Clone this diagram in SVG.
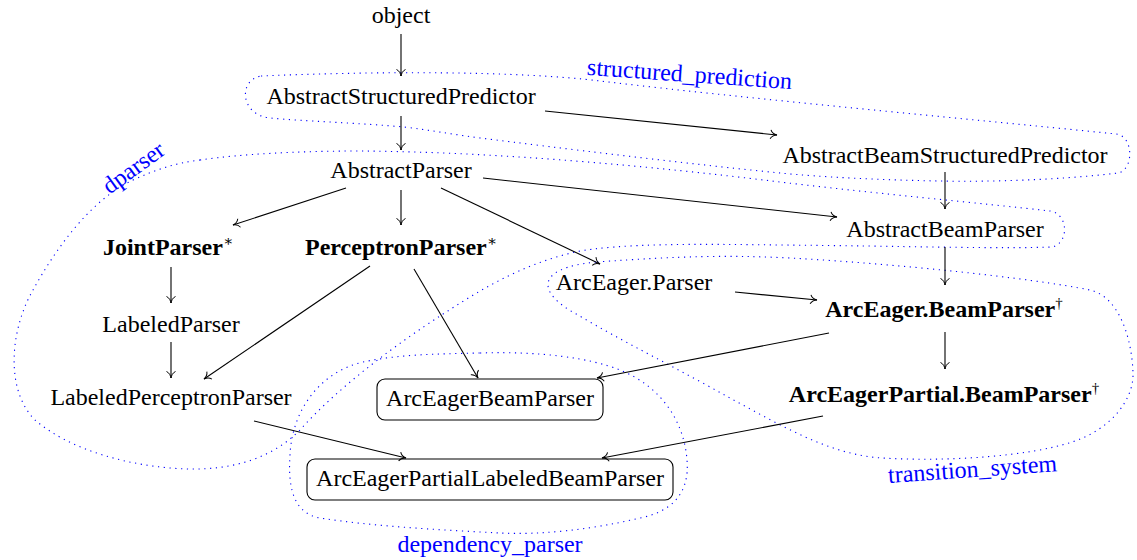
<svg xmlns="http://www.w3.org/2000/svg" width="1137" height="560" viewBox="0 0 1137 560">
  <style>
    .node text { font-family: "Liberation Serif", "DejaVu Serif", serif; font-size: 24px; text-anchor: middle; fill: #000; }
    .node text.b { font-weight: bold; }
    .node tspan.sup { font-size: 15px; font-weight: normal; }
    .box { fill: none; stroke: #000; stroke-width: 1.1; }
    .edge { fill: none; stroke: #000; stroke-width: 1.1; marker-end: url(#to); }
    .loop { fill: none; stroke: #0000ff; stroke-width: 1.1; stroke-dasharray: 1.2 4.6; }
    .lbl { font-family: "Liberation Serif", "DejaVu Serif", serif; font-size: 24px; text-anchor: middle; fill: #0000ff; }
  </style>
  <defs>
    <!-- open curved arrow tip -->
    <marker id="to" markerUnits="userSpaceOnUse" viewBox="-8 -6 12 12" markerWidth="12" markerHeight="12" refX="0" refY="0" orient="auto">
      <path d="M-6.5,-4.5 C-5.2,-1.6 -2.2,-0.35 0,0 C-2.2,0.35 -5.2,1.6 -6.5,4.5" fill="none" stroke="#000" stroke-width="1"/>
    </marker>
  </defs>
  <rect width="1137" height="560" fill="#fff"/>

  <!-- package outlines -->
  <g id="packages">
    <path id="pkg-structured-prediction" class="loop" d="M261,76 C380,71 520,71 600,81 C760,100 950,117 1116,134 C1134,136 1134,170 1118,173 C1060,180 990,182 940,181 C880,180 820,177 780,173 C680,163 560,148 480,138 C450,134 430,130 404,127 C360,123 300,121 270,118 C240,115 238,80 261,76 Z"/>
    <text class="lbl" transform="rotate(4 689 82)" x="689" y="82">structured_prediction</text>

    <path id="pkg-dparser" class="loop" d="M200,160 C240,154 300,151 360,151 C500,152 650,166 780,182 C880,194 980,203 1050,211 C1068,213 1070,243 1052,247 C1000,249 900,246 780,245 C700,244 620,243 575,252 C520,265 480,290 440,316 C400,342 340,385 300,430 C270,460 230,470 187,469 C130,467 70,450 35,420 C5,390 10,330 33,290 C55,250 90,200 133,180 C155,170 175,163 200,160 Z"/>
    <text class="lbl" transform="rotate(-36 138 174)" x="138" y="174">dparser</text>

    <path id="pkg-transition-system" class="loop" d="M597,262 C680,256 730,255 790,258 C900,264 1030,278 1090,290 C1120,297 1132,340 1133,373 C1134,400 1110,430 1072,442 C1030,456 950,462 882,458 C830,455 780,425 730,398 C680,370 620,340 578,315 C538,294 532,268 597,262 Z"/>
    <text class="lbl" transform="rotate(-4 973 477)" x="973" y="477">transition_system</text>

    <path id="pkg-dependency-parser" class="loop" d="M480,353 C540,351 590,358 620,370 C660,386 684,420 687,460 C690,495 670,512 640,518 C590,530 540,535 500,533 C440,530 370,526 320,518 C292,513 288,485 290,455 C292,410 320,372 363,362 C400,354 440,354 480,353 Z"/>
    <text class="lbl" x="490" y="552">dependency_parser</text>
  </g>

  <!-- inheritance edges -->
  <g id="edges">
    <line class="edge" x1="401" y1="34" x2="401" y2="76"/>
    <line class="edge" x1="401" y1="116" x2="401" y2="150"/>
    <line class="edge" x1="545" y1="111" x2="777" y2="135"/>
    <line class="edge" x1="945" y1="172" x2="945" y2="209"/>
    <line class="edge" x1="483" y1="178" x2="837" y2="217"/>
    <line class="edge" x1="346" y1="188" x2="233" y2="225"/>
    <line class="edge" x1="401" y1="190" x2="401" y2="225"/>
    <line class="edge" x1="441" y1="188" x2="600" y2="264"/>
    <line class="edge" x1="945" y1="247" x2="945" y2="285"/>
    <line class="edge" x1="735" y1="292" x2="817" y2="300"/>
    <line class="edge" x1="171" y1="267" x2="171" y2="303"/>
    <line class="edge" x1="171" y1="342" x2="171" y2="378"/>
    <line class="edge" x1="370" y1="266" x2="204" y2="379"/>
    <line class="edge" x1="414" y1="269" x2="478" y2="378"/>
    <line class="edge" x1="829" y1="333" x2="597" y2="378"/>
    <line class="edge" x1="945" y1="332" x2="945" y2="369"/>
    <line class="edge" x1="254" y1="421" x2="406" y2="458"/>
    <line class="edge" x1="823" y1="416" x2="602" y2="458"/>
  </g>

  <!-- classes -->
  <g id="object" class="node"><text x="401" y="23">object</text></g>
  <g id="AbstractStructuredPredictor" class="node"><text x="401" y="104">AbstractStructuredPredictor</text></g>
  <g id="AbstractBeamStructuredPredictor" class="node"><text x="945" y="163">AbstractBeamStructuredPredictor</text></g>
  <g id="AbstractParser" class="node"><text x="401" y="178">AbstractParser</text></g>
  <g id="AbstractBeamParser" class="node"><text x="945" y="237">AbstractBeamParser</text></g>
  <g id="JointParser" class="node"><text class="b" x="168" y="255">JointParser<tspan class="sup" dy="-9">∗</tspan></text></g>
  <g id="PerceptronParser" class="node"><text class="b" x="401" y="255">PerceptronParser<tspan class="sup" dy="-9">∗</tspan></text></g>
  <g id="ArcEager-Parser" class="node"><text x="634" y="290">ArcEager.Parser</text></g>
  <g id="ArcEager-BeamParser" class="node"><text class="b" x="944" y="317">ArcEager.BeamParser<tspan class="sup" dy="-9">†</tspan></text></g>
  <g id="LabeledParser" class="node"><text x="171" y="332">LabeledParser</text></g>
  <g id="ArcEagerPartial-BeamParser" class="node"><text class="b" x="944" y="402">ArcEagerPartial.BeamParser<tspan class="sup" dy="-9">†</tspan></text></g>
  <g id="LabeledPerceptronParser" class="node"><text x="171" y="405">LabeledPerceptronParser</text></g>
  <g id="ArcEagerBeamParser" class="node">
    <rect class="box" x="377" y="379" width="226" height="41" rx="8"/>
    <text x="490" y="406">ArcEagerBeamParser</text>
  </g>
  <g id="ArcEagerPartialLabeledBeamParser" class="node">
    <rect class="box" x="307" y="459" width="366" height="41" rx="8"/>
    <text x="490" y="486">ArcEagerPartialLabeledBeamParser</text>
  </g>
</svg>
